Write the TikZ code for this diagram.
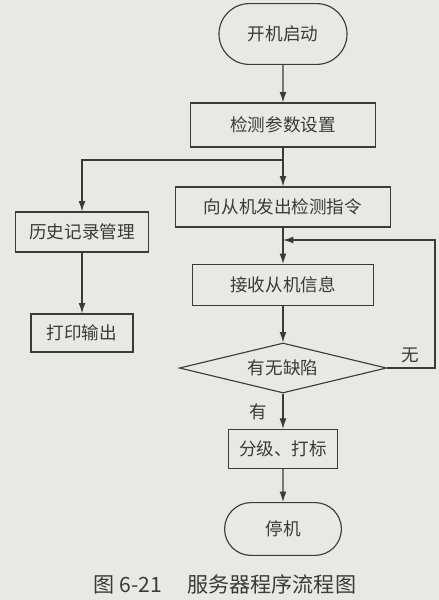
\documentclass[tikz,border=0pt]{standalone}
\usepackage{fontspec}
\setmainfont{Noto Sans CJK SC}
\usepackage{xcolor}
\usepackage{tikz}
\usetikzlibrary{
    positioning,
    arrows.meta,
    shapes.geometric,
    shapes.misc,
}
\definecolor{paper}{RGB}{232,232,229}
\definecolor{ink}{RGB}{58,58,58}
\tikzset{
    % Basic node styles
    procbox/.style={rectangle, draw=ink, line width=0.8pt, text=ink,
                    font=\fontsize{12.5}{14}\selectfont, inner sep=0pt},
    terminal/.style={procbox, rounded rectangle},
    decision/.style={procbox, diamond, aspect=4.1},
    % Arrow styles
    arrow/.style={-{Latex[length=2.6mm, width=1.7mm]}, line width=0.8pt, draw=ink},
    line/.style={line width=0.8pt, draw=ink},
    % Annotation styles
    annot/.style={font=\fontsize{12.5}{14}\selectfont, text=ink},
}

\begin{document}
\begin{tikzpicture}[x=0.025cm, y=-0.025cm]
    \fill[paper] (0,0) rectangle (439,600);
    \useasboundingbox (0,0) rectangle (439,600);

    % Main column
    \node[terminal, minimum width=3.2cm, minimum height=1.52cm] (start) at (283,34) {开机启动};
    \node[procbox, minimum width=4.62cm, minimum height=1.1cm] (param) at (283,125) {检测参数设置};
    \node[procbox, minimum width=5.38cm, minimum height=1cm] (send) at (283,207) {向从机发出检测指令};
    \node[procbox, minimum width=4.52cm, minimum height=1.02cm] (recv) at (283,285) {接收从机信息};
    \node[decision, minimum width=5.18cm, minimum height=1.25cm] (check) at (283,368) {有无缺陷};
    \node[procbox, minimum width=2.72cm, minimum height=0.98cm] (grade) at (283,449) {分级、打标};
    \node[terminal, minimum width=2.92cm, minimum height=1.32cm] (stop) at (283,529) {停机};

    % Side column
    \node[procbox, minimum width=3.32cm, minimum height=1cm] (hist) at (82,232) {历史记录管理};
    \node[procbox, minimum width=2.55cm, minimum height=0.95cm] (print) at (82,333) {打印输出};

    % Labels
    \node[annot] (none) at (410,355) {无};
    \node[annot] (yes) at (258,412) {有};
    \node[font=\fontsize{15}{17}\selectfont, text=ink] (caption) at (225,584) {图 6-21\hspace{1.2em}服务器程序流程图};

    % Helper points
    \coordinate (split) at (283,160);
    \coordinate (merge) at (283,240);
    \coordinate (loop) at (435,240);

    % Arrows
    \draw[arrow] (start) -- (param);
    \draw[arrow] (param) -- (send);
    \draw[arrow] (split) -| (hist.north);
    \draw[arrow] (hist) -- (print);
    \draw[arrow] (send) -- (recv);
    \draw[arrow] (recv) -- (check);
    \draw[arrow] (check.east) -| (loop) -- (merge);
    \draw[arrow] (check) -- (grade);
    \draw[arrow] (grade) -- (stop);
\end{tikzpicture}
\end{document}
